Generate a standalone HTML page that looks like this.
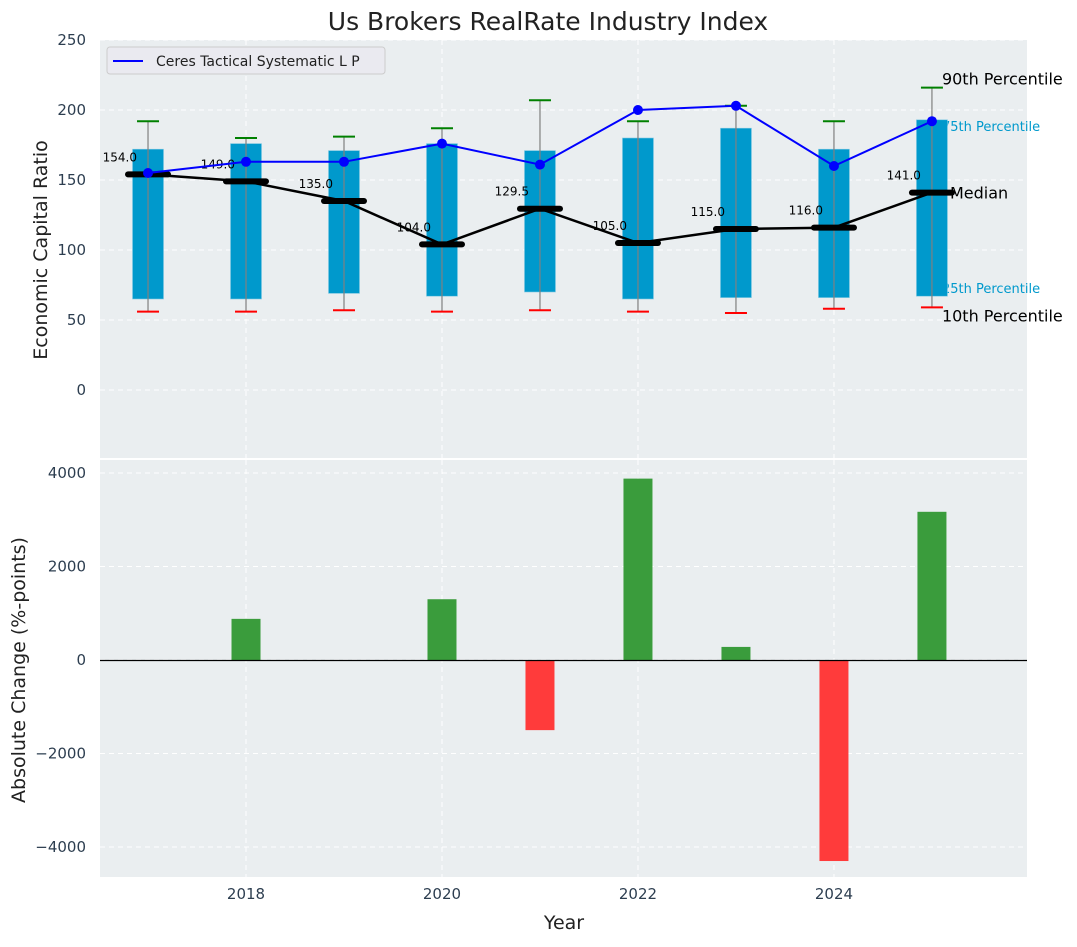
<!DOCTYPE html>
<html><head><meta charset="utf-8"><style>
body{margin:0;background:#fff;font-family:"Liberation Sans","DejaVu Sans",sans-serif}
svg text{font-family:"DejaVu Sans","Liberation Sans",sans-serif}
</style></head><body>
<svg id="c" width="1077" height="942" xmlns="http://www.w3.org/2000/svg"></svg>
<script>
const years=[2017,2018,2019,2020,2021,2022,2023,2024,2025];
const p10=[56,56,57,56,57,56,55,58,59];
const p25=[65,65,69,67,70,65,66,66,67];
const p50=[154,149,135,104,129.5,105,115,116,141];
const p75=[172,176,171,176,171,180,187,172,193];
const p90=[192,180,181,187,207,192,203,192,216];
const company=[155,163,163,176,161,200,203,160,192];
const changes=[0,880,0,1300,-1500,3880,280,-4300,3170];
const topTicks=[0,50,100,150,200,250];
const botTicks=[-4000,-2000,0,2000,4000];
const xTicks=[2018,2020,2022,2024];

const NS="http://www.w3.org/2000/svg";
const svg=document.getElementById('c');
function el(t,a,txt,p){const e=document.createElementNS(NS,t);for(const k in a)e.setAttribute(k,a[k]);if(txt!==undefined)e.textContent=txt;(p||svg).appendChild(e);return e;}
const L=100,R=1027;
const x=v=>L+(v-2016.51)*(R-L)/(2025.97-2016.51);
const yT=v=>390-v*1.4;
const yB=v=>660-v*187/4000;

let e=el('rect',{x:L,y:40,width:R-L,height:418,fill:'#eaeef0'});

e=el('rect',{x:L,y:460,width:R-L,height:417,fill:'#eaeef0'});


topTicks.forEach(t=>{el('line',{x1:L,x2:R,y1:yT(t),y2:yT(t),stroke:'#fff','stroke-dasharray':'5,4','stroke-width':1});
 e=el('text',{x:L-14,y:yT(t)+5,'text-anchor':'end','font-size':15,fill:'#2d3e50'},t);
 });
botTicks.forEach(t=>{el('line',{x1:L,x2:R,y1:yB(t),y2:yB(t),stroke:'#fff','stroke-dasharray':'5,4','stroke-width':1});
 e=el('text',{x:L-14,y:yB(t)+5,'text-anchor':'end','font-size':15,fill:'#2d3e50'},t<0?'\u2212'+(-t):t);
 });
xTicks.forEach(t=>{el('line',{x1:x(t),x2:x(t),y1:40,y2:458,stroke:'#fff','stroke-dasharray':'5,4'});
 el('line',{x1:x(t),x2:x(t),y1:460,y2:877,stroke:'#fff','stroke-dasharray':'5,4'});
 e=el('text',{x:x(t),y:899,'text-anchor':'middle','font-size':15,fill:'#2d3e50'},t);
 });

const lx=x(2025)+10;
e=el('text',{x:lx,y:yT(p75[8])+11,'font-size':13,fill:'#0099cc'},'75th Percentile');
e=el('text',{x:lx,y:yT(p25[8])-3,'font-size':13,fill:'#0099cc'},'25th Percentile');

const hw=15.5;
years.forEach((yr,i)=>{
 const cx=x(yr);
 e=el('rect',{x:cx-hw,y:yT(p75[i]),width:2*hw,height:yT(p25[i])-yT(p75[i]),fill:'#0099cc',stroke:'#7fc8e2','stroke-width':0.6});
 
 el('line',{x1:cx,x2:cx,y1:yT(p90[i]),y2:yT(p10[i]),stroke:'#808080','stroke-width':1.2});
 e=el('line',{x1:cx-11,x2:cx+11,y1:yT(p90[i]),y2:yT(p90[i]),stroke:'green','stroke-width':2});
 
 e=el('line',{x1:cx-11,x2:cx+11,y1:yT(p10[i]),y2:yT(p10[i]),stroke:'red','stroke-width':2});
 
});
let d=years.map((yr,i)=>(i?'L':'M')+x(yr)+','+yT(p50[i])).join(' ');
e=el('path',{d:d,fill:'none',stroke:'#000','stroke-width':2.5});

years.forEach((yr,i)=>{const cx=x(yr);
 e=el('line',{x1:cx-20,x2:cx+20,y1:yT(p50[i]),y2:yT(p50[i]),stroke:'#000','stroke-width':6,'stroke-linecap':'round'});
 
 e=el('text',{x:cx-11,y:yT(p50[i])-13,'text-anchor':'end','font-size':12,fill:'#000'},p50[i].toFixed(1));
 
});
d=years.map((yr,i)=>(i?'L':'M')+x(yr)+','+yT(company[i])).join(' ');
e=el('path',{d:d,fill:'none',stroke:'#0000ff','stroke-width':2});

years.forEach((yr,i)=>{e=el('circle',{cx:x(yr),cy:yT(company[i]),r:5,fill:'#0000ff'});
 });

e=el('text',{x:lx,y:yT(p90[8])-3,'font-size':16,fill:'#000'},'90th Percentile');
e=el('text',{x:x(2025)+18,y:yT(p50[8])+6,'font-size':16,fill:'#000'},'Median');
e=el('text',{x:lx,y:yT(p10[8])+14,'font-size':16,fill:'#000'},'10th Percentile');

e=el('rect',{x:107,y:47,width:278,height:27,rx:3,fill:'#eaeaf0',stroke:'#ccc'});

el('line',{x1:113,x2:143,y1:61,y2:61,stroke:'#0000ff','stroke-width':2});
e=el('text',{x:156,y:66,'font-size':14,fill:'#222'},'Ceres Tactical Systematic L P');


years.forEach((yr,i)=>{const v=changes[i];if(!v)return;const cx=x(yr);
 e=el('rect',{x:cx-14.5,y:Math.min(yB(v),yB(0)),width:29,height:Math.abs(yB(v)-yB(0)),fill:v>0?'#3a9c3c':'#ff3b3b'});
 });
el('line',{x1:L,x2:R,y1:660.5,y2:660.5,stroke:'#000','stroke-width':1.2});

e=el('text',{x:548,y:30,'text-anchor':'middle','font-size':25,fill:'#222'},'Us Brokers RealRate Industry Index');

e=el('text',{x:0,y:0,'text-anchor':'middle','font-size':19,fill:'#222',transform:'translate(47,250) rotate(-90)'},'Economic Capital Ratio');

e=el('text',{x:0,y:0,'text-anchor':'middle','font-size':19,fill:'#222',transform:'translate(25,670) rotate(-90)'},'Absolute Change (%-points)');

e=el('text',{x:564,y:929,'text-anchor':'middle','font-size':19,fill:'#222'},'Year');

</script>
</body></html>
